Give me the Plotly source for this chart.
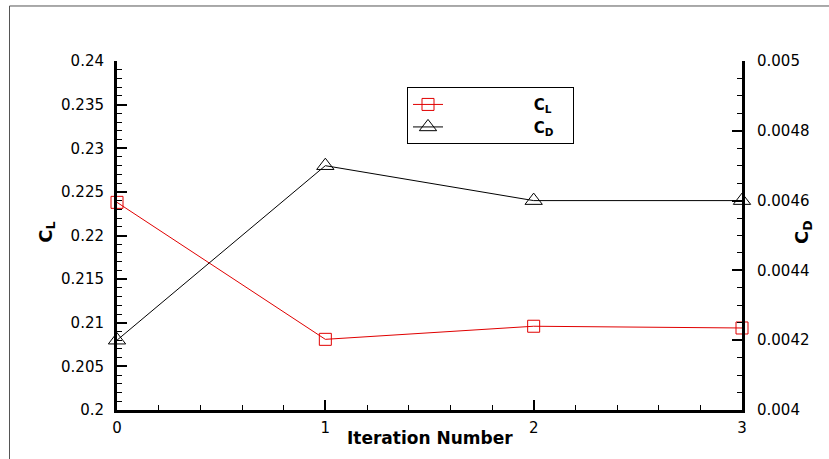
import plotly.graph_objects as go

iterations = [0, 1, 2, 3]
cl_values = [0.2238, 0.2081, 0.2096, 0.2094]
cd_values = [0.0042, 0.0047, 0.0046, 0.0046]
x_ticks = [0, 1, 2, 3]
cl_ticks = [0.2, 0.205, 0.21, 0.215, 0.22, 0.225, 0.23, 0.235, 0.24]
cd_ticks = [0.004, 0.0042, 0.0044, 0.0046, 0.0048, 0.005]

FONT = "DejaVu Sans, sans-serif"
PAD = "&nbsp;" * 18
TAIL = "&nbsp;" * 3

fig = go.Figure()
fig.add_trace(go.Scatter(
    x=iterations, y=cl_values, name=PAD + "<b>C<sub>L</sub></b>" + TAIL,
    mode="lines+markers", cliponaxis=False,
    line=dict(color="#e00000", width=1),
    marker=dict(symbol="square-open", size=12, color="#e00000", line=dict(width=1)),
))
fig.add_trace(go.Scatter(
    x=iterations, y=cd_values, name=PAD + "<b>C<sub>D</sub></b>" + TAIL, yaxis="y2",
    mode="lines+markers", cliponaxis=False,
    line=dict(color="#000000", width=1),
    marker=dict(symbol="triangle-up-open", size=15, color="#000000", line=dict(width=1)),
))

axis_common = dict(
    showgrid=False, zeroline=False, showline=True, linecolor="black", linewidth=3,
    ticks="inside", ticklen=10, tickwidth=2, tickcolor="black",
    tickfont=dict(family=FONT, size=15, color="black"),
)

fig.update_layout(
    width=829, height=459,
    margin=dict(l=117, r=87, t=61, b=49),
    paper_bgcolor="white", plot_bgcolor="white",
    font=dict(family=FONT, color="black"),
    xaxis=dict(range=[0, 3], tickvals=x_ticks, ticktext=[str(v) for v in x_ticks],
               minor=dict(ticks="inside", ticklen=5, tickwidth=1, dtick=0.2, tickcolor="black"),
               ticklabelstandoff=2, **axis_common),
    yaxis=dict(range=[0.2, 0.24], tickvals=cl_ticks, ticktext=[f"{v:g}" for v in cl_ticks],
               minor=dict(ticks="inside", ticklen=5, tickwidth=1, dtick=0.001, tickcolor="black"),
               ticklabelstandoff=7, **axis_common),
    yaxis2=dict(range=[0.004, 0.005], tickvals=cd_ticks, ticktext=[f"{v:g}" for v in cd_ticks],
                overlaying="y", side="right",
                minor=dict(ticks="inside", ticklen=5, tickwidth=1, dtick=0.00005, tickcolor="black"),
                ticklabelstandoff=9, **axis_common),
    legend=dict(x=0.464, y=0.925, xanchor="left", yanchor="top",
                bordercolor="black", borderwidth=1, bgcolor="white",
                font=dict(family=FONT, size=15, color="black"),
                tracegroupgap=0),
    showlegend=True,
)

fig.add_annotation(text="<b>Iteration Number</b>", xref="paper", yref="paper",
                   x=0.5, y=-0.045, yanchor="top", showarrow=False,
                   font=dict(family=FONT, size=17, color="black"))
fig.add_annotation(text="<b>C<sub>L</sub></b>", xref="paper", yref="paper",
                   x=-0.135, y=0.51, textangle=-90, showarrow=False,
                   font=dict(family=FONT, size=18, color="black"))
fig.add_annotation(text="<b>C<sub>D</sub></b>", xref="paper", yref="paper",
                   x=1.12, y=0.51, textangle=-90, showarrow=False,
                   font=dict(family=FONT, size=18, color="black"))

# outer frame lines (top and left)
fig.add_shape(type="line", xref="paper", yref="paper", x0=-0.172, x1=1.15, y0=1.1576, y1=1.1576,
              line=dict(color="#555555", width=1))
fig.add_shape(type="line", xref="paper", yref="paper", x0=-0.172, x1=-0.172, y0=-0.15, y1=1.1576,
              line=dict(color="#555555", width=1))

fig.write_html("out.html")
